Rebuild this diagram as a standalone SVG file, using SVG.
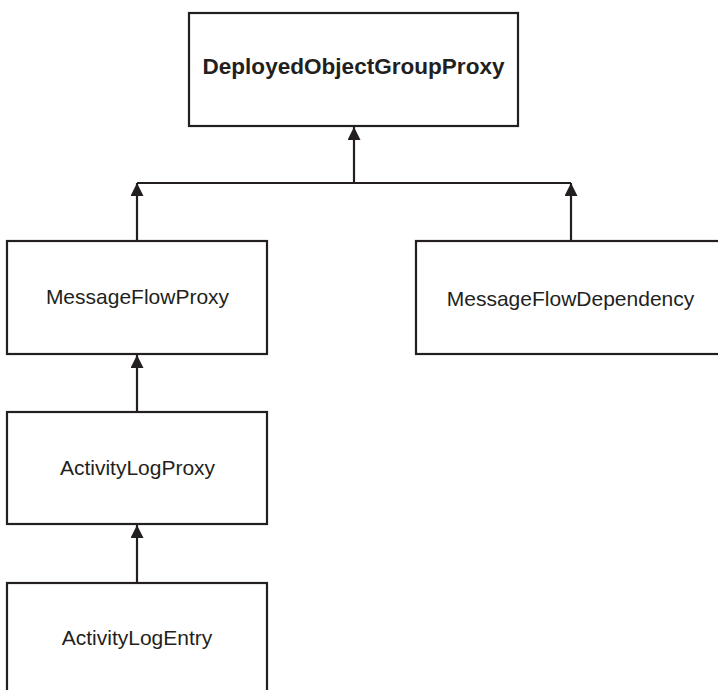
<svg xmlns="http://www.w3.org/2000/svg" width="718" height="690" viewBox="0 0 718 690">
  <style>
    .box { fill: #ffffff; stroke: #231f20; stroke-width: 2.2; }
    .lbl { font-family: "Liberation Sans", Arial, sans-serif; font-size: 21px; fill: #231f20; text-anchor: middle; }
    .title { font-weight: bold; font-size: 22.5px; }
    .edge { fill: none; stroke: #231f20; stroke-width: 2.2; }
  </style>
  <defs>
    <marker id="arrow" markerUnits="userSpaceOnUse" markerWidth="14" markerHeight="13" refX="13" refY="6.5" orient="auto">
      <path d="M0,0 L13,6.5 L0,13 z" fill="#231f20"/>
    </marker>
  </defs>
  <rect width="718" height="690" fill="#ffffff"/>

  <g id="connectors">
    <path class="edge" d="M137,183 H571"/>
    <path class="edge" d="M354,183 V127" marker-end="url(#arrow)"/>
    <path class="edge" d="M137,241 V183" marker-end="url(#arrow)"/>
    <path class="edge" d="M571,241 V183" marker-end="url(#arrow)"/>
    <path class="edge" d="M137,412 V355" marker-end="url(#arrow)"/>
    <path class="edge" d="M137,583 V525" marker-end="url(#arrow)"/>
  </g>

  <g id="DeployedObjectGroupProxy">
    <rect class="box" x="189" y="13" width="329" height="113"/>
    <text class="lbl title" x="353.5" y="74" textLength="302" lengthAdjust="spacingAndGlyphs">DeployedObjectGroupProxy</text>
  </g>
  <g id="MessageFlowProxy">
    <rect class="box" x="7" y="241" width="260" height="113"/>
    <text class="lbl" x="137.5" y="304">MessageFlowProxy</text>
  </g>
  <g id="MessageFlowDependency">
    <rect class="box" x="416" y="241" width="310" height="113"/>
    <text class="lbl" x="570.5" y="305.5">MessageFlowDependency</text>
  </g>
  <g id="ActivityLogProxy">
    <rect class="box" x="7" y="412" width="260" height="112"/>
    <text class="lbl" x="137.5" y="475">ActivityLogProxy</text>
  </g>
  <g id="ActivityLogEntry">
    <rect class="box" x="7" y="583" width="260" height="120"/>
    <text class="lbl" x="137" y="645">ActivityLogEntry</text>
  </g>
</svg>
